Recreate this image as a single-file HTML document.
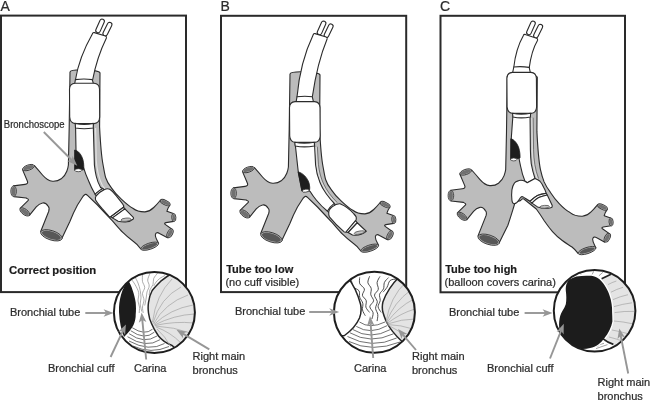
<!DOCTYPE html>
<html><head><meta charset="utf-8">
<style>
html,body{margin:0;padding:0;background:#fff;}
body{width:650px;height:400px;overflow:hidden;font-family:"Liberation Sans",sans-serif;}
svg{display:block;position:absolute;left:0;top:0;filter:grayscale(1);}
text{font-family:"Liberation Sans",sans-serif;fill:#2c2c2c;stroke:#2c2c2c;stroke-width:0.22;}
.b{font-weight:bold;fill:#1a1a1a;}
.o{stroke:#2b2b2b;stroke-width:1.1;stroke-linejoin:round;stroke-linecap:round;}
.w{fill:#fff;}
.g{fill:#bcbcbc;}
.cap{fill:#6f6f6f;stroke:#3a3a3a;stroke-width:0.9;}
.ar{stroke:#8a8a8a;stroke-width:1.6;fill:none;}
.ah{fill:#8a8a8a;}
.thin{stroke:#9a9a9a;stroke-width:0.7;fill:none;}
.ring{stroke:#333;stroke-width:0.7;fill:none;}
</style></head><body>
<svg width="650" height="400" viewBox="0 0 650 400">
<defs>
<!--BEGIN tree-->
<g id="tree">
<path class="g o" d="M70,72 C70.5,68.5 99.5,69.5 100,73 L99.6,127 C100.5,145 101.5,157 103.1,165 C104,170 104.6,174 105.6,177.5 C107,182 109.2,185 111.6,188.1 C114.4,192.4 117.8,196 121.6,199.3 C125.3,202.8 128.8,206 132.8,208.2 C136,210.7 140.5,212 145,211.9 C148.5,211.5 151.5,209.8 153.75,207.5 C156.5,205 158.5,202.5 160.4,200.2 L170,205 C168.5,207 167.3,209 166.9,211.25 L173.3,213.6 L173.75,221.4 L166,222.6 Q163.5,223.3 165.5,224.6 L172,229.2 L167.5,237.8 L159.5,233.4 Q156.4,231.6 155.5,234.2 C154.6,236.5 157,240 158.6,243.3 L140.8,249 C138.8,246 136.4,243.4 133.2,241.2 C129.6,238.6 126,235.6 122.8,232.4 C119,228.6 115.6,224.4 112.2,220.6 L106.9,215 L97.5,205 L87.5,195.4 Q85.5,193.6 84.4,195 L83.1,196.25 L77.5,205 C74,211.5 72,216 70,221.25 L61.8,238.6 L40.7,231.5 L48.75,211.25 C49.5,208.5 49,207 48.1,206.2 C46.5,203.5 44,202.6 42.5,203 C40,203.6 38,205 36.25,206.9 L29.4,215.4 L20.1,208.4 L27.5,201.2 Q29.6,199.4 27,198.5 L26.2,198 L13.8,196.6 L13.5,185.9 L25,184.4 Q28.3,184 27.5,181.5 L26.9,180 L22.5,169.6 L34.4,165.6 C37,168.5 40,172 42.5,175 C45.5,178.5 49,181 52.5,181.2 C56,181.4 59,180.5 61.2,178.8 C64,176.5 65.8,174 66.8,171.2 C67.6,169 68.2,167 68.4,165 L69.2,127 Z"/>
<ellipse cx="28.4" cy="167.6" rx="6.1" ry="2.6" transform="rotate(-19 28.4 167.6)" fill="#b4b4b4" stroke="#3c3c3c" stroke-width="0.9"/>
<ellipse cx="28.4" cy="167.6" rx="5.20" ry="1.85" transform="rotate(-19 28.4 167.6)" fill="#707070"/>
<ellipse cx="13.6" cy="191.2" rx="2.8" ry="5.3" transform="rotate(0 13.6 191.2)" fill="#b4b4b4" stroke="#3c3c3c" stroke-width="0.9"/>
<ellipse cx="13.6" cy="191.2" rx="1.90" ry="4.55" transform="rotate(0 13.6 191.2)" fill="#707070"/>
<ellipse cx="24.75" cy="211.9" rx="5.7" ry="2.8" transform="rotate(37 24.75 211.9)" fill="#b4b4b4" stroke="#3c3c3c" stroke-width="0.9"/>
<ellipse cx="24.75" cy="211.9" rx="4.80" ry="2.05" transform="rotate(37 24.75 211.9)" fill="#707070"/>
<ellipse cx="51.4" cy="235.3" rx="11.2" ry="4.7" transform="rotate(18 51.4 235.3)" fill="#b4b4b4" stroke="#3c3c3c" stroke-width="0.9"/>
<ellipse cx="51.4" cy="235.3" rx="9.90" ry="3.70" transform="rotate(18 51.4 235.3)" fill="#585858"/>
<ellipse cx="149.7" cy="246.2" rx="9.3" ry="3.1" transform="rotate(-18 149.7 246.2)" fill="#b4b4b4" stroke="#3c3c3c" stroke-width="0.9"/>
<ellipse cx="149.7" cy="246.2" rx="8.00" ry="2.10" transform="rotate(-18 149.7 246.2)" fill="#585858"/>
<ellipse cx="170" cy="233.3" rx="2.6" ry="4.7" transform="rotate(27 170 233.3)" fill="#b4b4b4" stroke="#3c3c3c" stroke-width="0.9"/>
<ellipse cx="170" cy="233.3" rx="1.70" ry="3.95" transform="rotate(27 170 233.3)" fill="#707070"/>
<ellipse cx="173.8" cy="217.5" rx="2.1" ry="4" transform="rotate(-4 173.8 217.5)" fill="#b4b4b4" stroke="#3c3c3c" stroke-width="0.9"/>
<ellipse cx="173.8" cy="217.5" rx="1.20" ry="3.25" transform="rotate(-4 173.8 217.5)" fill="#707070"/>
<ellipse cx="165.2" cy="202.6" rx="5.3" ry="2.3" transform="rotate(26 165.2 202.6)" fill="#b4b4b4" stroke="#3c3c3c" stroke-width="0.9"/>
<ellipse cx="165.2" cy="202.6" rx="4.40" ry="1.55" transform="rotate(26 165.2 202.6)" fill="#707070"/>
</g>
<!--END tree-->
<!--BEGIN treeC-->
<g id="treeC">
<path class="g o" d="M70,72 C70.5,68.5 99.5,69.5 100,73 L99.6,127 C100.5,145 101.5,157 103.1,165 C104.2,170 105.4,174 106.8,177.5 C108.6,181.6 110.8,184.8 113,187.8 C115.6,191.8 118.4,195.6 121.9,199.2 C125.3,202.8 128.8,206 132.8,208.2 C136,210.7 140.5,212 145,211.9 C148.5,211.5 151.5,209.8 153.75,207.5 C156.5,205 158.5,202.5 160.4,200.2 L170,205 C168.5,207 167.3,209 166.9,211.25 L173.3,213.6 L173.75,221.4 L166,222.6 Q163.5,223.3 165.5,224.6 L172,229.2 L167.5,237.8 L159.5,233.4 Q156.4,231.6 155.5,234.2 C154.6,236.5 157,240 158.6,243.3 L140.8,249 C139,246.6 137,244.4 134.7,242.6 C131.4,240.4 128,238.4 125,236.1 C121.4,233.4 118,230.4 115.2,227.2 C112.2,223.8 109.6,220.2 107.1,216.6 C104.6,212.6 101.8,208.4 99,204.6 L87.5,195.4 Q85.5,193.6 84.4,195 L83.1,196.25 L78,197.6 C76.2,203 73.6,212 70.6,220.8 L61.8,238.6 L40.7,231.5 L48.75,211.25 C49.5,208.5 49,207 48.1,206.2 C46.5,203.5 44,202.6 42.5,203 C40,203.6 38,205 36.25,206.9 L29.4,215.4 L20.1,208.4 L27.5,201.2 Q29.6,199.4 27,198.5 L26.2,198 L13.8,196.6 L13.5,185.9 L25,184.4 Q28.3,184 27.5,181.5 L26.9,180 L22.5,169.6 L34.4,165.6 C37,168.5 40,172 42.5,175 C45.5,178.5 49,181 52.5,181.2 C56,181.4 59,180.5 61.2,178.8 C64,176.5 65.8,174 66.8,171.2 C67.6,169 68.2,167 68.4,165 L69.2,127 Z"/>
<ellipse cx="28.4" cy="167.6" rx="6.1" ry="2.6" transform="rotate(-19 28.4 167.6)" fill="#b4b4b4" stroke="#3c3c3c" stroke-width="0.9"/>
<ellipse cx="28.4" cy="167.6" rx="5.20" ry="1.85" transform="rotate(-19 28.4 167.6)" fill="#707070"/>
<ellipse cx="13.6" cy="191.2" rx="2.8" ry="5.3" transform="rotate(0 13.6 191.2)" fill="#b4b4b4" stroke="#3c3c3c" stroke-width="0.9"/>
<ellipse cx="13.6" cy="191.2" rx="1.90" ry="4.55" transform="rotate(0 13.6 191.2)" fill="#707070"/>
<ellipse cx="24.75" cy="211.9" rx="5.7" ry="2.8" transform="rotate(37 24.75 211.9)" fill="#b4b4b4" stroke="#3c3c3c" stroke-width="0.9"/>
<ellipse cx="24.75" cy="211.9" rx="4.80" ry="2.05" transform="rotate(37 24.75 211.9)" fill="#707070"/>
<ellipse cx="51.4" cy="235.3" rx="11.2" ry="4.7" transform="rotate(18 51.4 235.3)" fill="#b4b4b4" stroke="#3c3c3c" stroke-width="0.9"/>
<ellipse cx="51.4" cy="235.3" rx="9.90" ry="3.70" transform="rotate(18 51.4 235.3)" fill="#585858"/>
<ellipse cx="149.7" cy="246.2" rx="9.3" ry="3.1" transform="rotate(-18 149.7 246.2)" fill="#b4b4b4" stroke="#3c3c3c" stroke-width="0.9"/>
<ellipse cx="149.7" cy="246.2" rx="8.00" ry="2.10" transform="rotate(-18 149.7 246.2)" fill="#585858"/>
<ellipse cx="170" cy="233.3" rx="2.6" ry="4.7" transform="rotate(27 170 233.3)" fill="#b4b4b4" stroke="#3c3c3c" stroke-width="0.9"/>
<ellipse cx="170" cy="233.3" rx="1.70" ry="3.95" transform="rotate(27 170 233.3)" fill="#707070"/>
<ellipse cx="173.8" cy="217.5" rx="2.1" ry="4" transform="rotate(-4 173.8 217.5)" fill="#b4b4b4" stroke="#3c3c3c" stroke-width="0.9"/>
<ellipse cx="173.8" cy="217.5" rx="1.20" ry="3.25" transform="rotate(-4 173.8 217.5)" fill="#707070"/>
<ellipse cx="165.2" cy="202.6" rx="5.3" ry="2.3" transform="rotate(26 165.2 202.6)" fill="#b4b4b4" stroke="#3c3c3c" stroke-width="0.9"/>
<ellipse cx="165.2" cy="202.6" rx="4.40" ry="1.55" transform="rotate(26 165.2 202.6)" fill="#707070"/>
</g>
<!--END treeC-->
</defs>

<!-- frames -->
<rect x="1" y="15.6" width="185" height="276.5" fill="#fff" stroke="#2a2a2a" stroke-width="2"/>
<rect x="221" y="15.8" width="185.2" height="276.3" fill="#fff" stroke="#2a2a2a" stroke-width="2"/>
<rect x="440.5" y="15.8" width="184.5" height="276.5" fill="#fff" stroke="#2a2a2a" stroke-width="2"/>
<text x="0.5" y="10.6" font-size="14">A</text>
<text x="220.5" y="10.6" font-size="14">B</text>
<text x="440" y="10.6" font-size="14">C</text>

<!-- ===== Panel A ===== -->
<use href="#tree"/>
<!--BEGIN tubeA-->
<g id="tubeA">
<!-- pilot tubes -->
<rect class="w o" x="-2.3" y="0" width="4.6" height="14.5" rx="2.3" transform="translate(103,19.3) rotate(24)"/>
<rect class="w o" x="-2.3" y="0" width="4.6" height="14.5" rx="2.3" transform="translate(110.6,22.6) rotate(26)"/>
<!-- upper tube -->
<path class="w o" d="M92.6,33.6 Q93,32.3 94.4,32.6 L105.4,36 Q106.8,36.6 106.4,38 C100.5,50 95.5,65 92.6,80 L75.4,80 C78,64 85,47 92.6,33.6 Z"/>
<!-- band -->
<path class="w o" d="M75.4,79.6 Q84,78.4 92.3,79.6 L93.6,84.5 L74.6,84.5 Z"/>
<!-- tube below cuff -->
<path class="w o" d="M75.5,123 L76,150 L75.4,170 L83.6,167.6 C85,172.5 86.8,177 88.75,181.25 C90.6,186 92.6,190 95.1,194.2 L102.9,188.6 C102,188.4 101.2,188 100.6,187.5 C98.6,184 97.2,180.5 96.25,176.25 C95.4,172.5 94.8,169 94.4,165 L93.2,123 Z"/>
<path d="M95.6,128 L96.2,160 C96.8,169 98.6,178 102.4,185.4 C103.2,186.8 104,187.8 105.2,188.8" fill="none" stroke="#e4e4e4" stroke-width="1.1"/>
<!-- tracheal cuff -->
<path class="w o" d="M75,83.2 L94,83.2 C97.5,83.4 99.3,85.5 99.5,89 L99.7,117 C99.5,121 97.5,123.4 94,123.6 L75.4,123.6 C72,123.4 70,121 69.7,117 L69.5,89 C69.7,85.5 71.5,83.4 75,83.2 Z"/>
<path class="w o" d="M75.2,123.4 Q84,125.6 93.4,123.4 L93.2,128 Q84,129.6 75.5,128 Z"/>
<!-- black spot -->
<path d="M74.6,150 C80.6,151.2 84.8,160 83.6,169.8 L74.6,170.2 Z" fill="#1e1e1e" stroke="#1e1e1e" stroke-width="0.8"/>
<ellipse cx="78.3" cy="170.2" rx="3.6" ry="1.5" fill="#fff" stroke="#333" stroke-width="0.8"/>
<!-- bronchial cuff -->
<path class="w o" d="M95.1,194.2 Q98.6,190.6 102.9,188.6 L104.1,189.7 Q99.6,191.8 96.2,195.9 Z"/>
<path class="w o" d="M96.2,195.9 Q99.6,191.8 104.1,189.7 C106,188.8 108.2,188.6 109.7,189.2 C112,190.6 114,193 115.9,195.4 C118,198 120.5,201 122.6,203.8 C123.6,205 124,206 123.5,207.2 L110.8,216.7 C110,217.2 109.4,216.8 108.8,216.2 L102.4,208.9 C99.6,205.5 97,202.5 95.6,199.9 C95.2,198.5 95.2,197 96.2,195.9 Z"/>
<path class="w o" d="M110.8,216.7 L123.5,207.2 L124.9,208.9 L112.5,217.9 Z"/>
<path class="w o" d="M112.5,217.9 L124.9,208.9 L133.3,217.3 Q133.8,218.4 133.3,219 C131,220.8 129,221.6 127.1,221.8 C124,222.2 121,221.9 118.1,221.2 Z"/>
<ellipse cx="126" cy="219.7" rx="5" ry="1.6" transform="rotate(-5 126 219.7)" fill="#c4c4c4" stroke="#444" stroke-width="0.7"/>
</g>
<!--END tubeA-->
<!-- bronchoscope label -->
<text x="3.8" y="127.6" font-size="10" textLength="60.8" lengthAdjust="spacingAndGlyphs">Bronchoscope</text>
<!--BEGIN bsarrow-->
<g id="bsarrow"><line x1="43.8" y1="132.0" x2="71.6" y2="160.0" stroke="#989898" stroke-width="1.9"/><polygon points="77.3,165.8 67.2,161.0 71.6,160.0 72.6,155.7" fill="#989898"/></g>
<!--END bsarrow-->
<text class="b" x="9" y="274.4" font-size="11.3">Correct position</text>

<!-- ===== Panel B ===== -->
<use href="#tree" transform="translate(220,2)"/>
<!--BEGIN tubeB-->
<g id="tubeB">
<rect class="w o" x="-2.3" y="0" width="4.6" height="14.5" rx="2.3" transform="translate(324.5,21.3) rotate(24)"/>
<rect class="w o" x="-2.3" y="0" width="4.6" height="14.5" rx="2.3" transform="translate(331.8,24.2) rotate(26)"/>
<path class="w o" d="M313.3,34.6 Q313.7,33.3 315.1,33.6 L326.1,37 Q327.5,37.6 327.1,39 C320.5,55 315.5,75 312.3,97 L297,97 C299,75 305,52 313.3,34.6 Z"/>
<path class="w o" d="M297,96.8 Q305,95.6 312.3,96.8 L313.6,102.4 L296,102.4 Z"/>
<!-- tube lower -->
<path class="w o" d="M295,142 L297.5,165 L298.3,172 L301.9,190.6 L310,191.25 C312,194.5 314,197.3 316.25,200 C319.5,204 323.5,208 327.5,211.25 L334.4,203.5 C331.5,200.6 328.8,197.3 326.25,193.75 C323.6,190 321.6,186.6 320,182.5 C317.6,177 316.2,171 315.6,165 L314.4,142 Z"/>
<path d="M316.2,147 L317.3,165 C318,172 320,179 322.6,184.5 C325.5,190.5 330,197 336,202.8" fill="none" stroke="#dcdcdc" stroke-width="1.5"/><path d="M316.2,147 L317.3,165 C318,172 320,179 322.6,184.5 C325.5,190.5 330,197 336,202.8" transform="translate(1.15,-0.3)" fill="none" stroke="#505050" stroke-width="0.7"/>
<path class="w o" d="M295,101.6 L314.6,101.6 C318,101.8 319.8,103.9 320,107.4 L320.2,136 C320,140 318,142.2 314.6,142.4 L295.4,142.4 C292,142.2 290,140 289.7,136 L289.5,107.4 C289.7,103.9 291.5,101.8 295,101.6 Z"/>
<path class="w o" d="M294.8,142.2 Q304,144.4 314.4,142.2 L314.4,146 Q304,147.8 295.2,146 Z"/>
<path d="M298.1,171.9 C303,173 307.5,178 309,183 C309.8,186 310,188.5 309.4,190.6 L301.9,190.8 Z" fill="#1e1e1e" stroke="#1e1e1e" stroke-width="0.8"/>
<ellipse cx="305.6" cy="190.7" rx="3.5" ry="1.5" transform="rotate(-8 305.6 190.7)" fill="#fff" stroke="#333" stroke-width="0.8"/>
<!-- bronchial cuff -->
<path class="w o" d="M327.5,211 Q330,206.5 334,203.6 L335.4,205 Q331.5,208 328.9,212.6 Z"/>
<path class="w o" d="M328.75,212.5 C328.6,209 335,203.4 340,203.75 C345.5,206 351,210.5 353.75,213.75 C355.5,215.5 356.6,217 356.25,218.4 Q356.4,220 355.6,220.6 L346.25,231.9 Q345.2,232.6 344.2,231.9 C339,227.5 333.5,222 329.4,216.9 Q328.5,214.5 328.75,212.5 Z"/>
<path class="w o" d="M346,232 L355.6,220.6 L357.25,222.75 L348.1,232.5 Z"/>
<path class="w o" d="M348.1,232.5 L357.25,222.75 L366.25,231.25 C363,234 357.5,235.8 352.5,235 Z"/>
<ellipse cx="359.4" cy="232.6" rx="5.2" ry="1.5" transform="rotate(-10 359.4 232.6)" fill="#c4c4c4" stroke="#444" stroke-width="0.7"/>
</g>
<!--END tubeB-->
<text class="b" x="226.2" y="273" font-size="11">Tube too low</text>
<text x="225.4" y="286.4" font-size="11">(no cuff visible)</text>

<!-- ===== Panel C ===== -->
<use href="#treeC" transform="translate(437.3,4.4)"/>
<!--BEGIN tubeC-->
<g id="tubeC">
<rect class="w o" x="-2.3" y="0" width="4.6" height="14.5" rx="2.3" transform="translate(533.9,21.3) rotate(24)"/>
<rect class="w o" x="-2.3" y="0" width="4.6" height="14.5" rx="2.3" transform="translate(541.3,24.6) rotate(26)"/>
<path class="w o" d="M523.4,35.4 Q523.8,34.1 525.2,34.4 L536.6,38.2 Q538,38.8 537.6,40.2 C533,48 530.5,58 529.2,68 L513.8,67.3 C515,56 518.5,44 523.4,35.4 Z"/>
<path class="w o" d="M513.8,67 Q521,66 529.2,67.4 L530.4,72.8 L512.6,72.8 Z"/>
<!-- lower tube -->
<path class="w o" d="M513.1,113 L511.25,138.75 L510.8,159.6 L518.75,157 C519.3,160 519.9,163 520.6,166.25 C521.6,171.5 523,176.5 525,181.25 L527.25,182.75 L535,178.5 C533.4,173.6 532.1,168.8 531.25,163.75 C530.7,159 530.5,154.5 530.4,150 L530,113 Z"/>
<path d="M532,118 L532.4,150 C532.6,160 534,170 537.4,178.8" fill="none" stroke="#dcdcdc" stroke-width="1.5"/><path d="M532,118 L532.4,150 C532.6,160 534,170 537.4,178.8" transform="translate(1.15,-0.3)" fill="none" stroke="#505050" stroke-width="0.7"/>
<path class="w o" d="M512.4,72.4 L531,72.4 C534.4,72.6 536.2,74.7 536.4,78.2 L536.6,107 C536.4,111 534.4,113.2 531,113.4 L512.8,113.4 C509.4,113.2 507.4,111 507.1,107 L506.9,78.2 C507.1,74.7 508.9,72.6 512.4,72.4 Z"/>
<path class="w o" d="M512.5,113.2 Q521,115.4 530.6,113.2 L530.4,117 Q521,118.8 513,117 Z"/>
<path d="M510.8,138.8 C514,139.2 517.5,143.75 518.8,148 C519.8,151.5 520.2,155 520,158 L510.8,159.8 Z" fill="#1e1e1e" stroke="#1e1e1e" stroke-width="0.8"/>
<ellipse cx="513.75" cy="159.4" rx="3.1" ry="1.5" fill="#fff" stroke="#333" stroke-width="0.8"/>
<!-- herniated cuff -->
<path class="w o" d="M525,181.25 C522.5,180 520.5,180 518.75,180.6 C516.5,181.2 515,182 514.4,183.1 C513,185 512.2,187.5 511.9,190 C511.5,193.5 511.5,197 511.9,200 C512.2,202.5 512.8,203.6 513.75,203.75 C515,203.8 516,203.3 516.9,202.5 C518.3,201 519.5,199 520.6,197.5 C521.4,196.6 522.3,196.5 523.1,196.9 C525.4,198.3 527.4,200 530,201.25 C532.5,199 535,197 537.5,195.6 C540.5,194.3 543.5,193.8 546.25,193.3 C545.6,191 544.8,189.2 543.75,187.5 C542.8,185 541.5,183 540,181.25 C538.4,180 536.5,179.2 535,178.5 L527.25,182.75 Z"/>
<path class="w o" d="M530,201.25 C532.5,199 535,197 537.5,195.6 C540.5,194.3 543.5,193.8 546.25,193.3 L547.25,195 C544.3,195.6 541.5,196.3 538.75,197.5 C536.3,198.8 534,200.8 531.9,203.1 Z"/>
<path class="w o" d="M531.9,203.1 C534,200.8 536.3,198.8 538.75,197.5 C541.5,196.3 544.3,195.6 547.25,195 L552.25,205.6 Q552.6,207.4 550.8,207.8 C547,208.6 542.5,208.6 537.5,206.9 Z"/>
<ellipse cx="544.6" cy="206.8" rx="4.8" ry="1.4" transform="rotate(-4 544.6 206.8)" fill="#c4c4c4" stroke="#444" stroke-width="0.7"/>
</g>
<!--END tubeC-->
<text class="b" x="445.2" y="273" font-size="11">Tube too high</text>
<text x="444.6" y="286.2" font-size="11">(balloon covers carina)</text>

<!-- ===== Circles ===== -->
<!--BEGIN circA-->
<g id="circA">
<clipPath id="ca"><circle cx="154.4" cy="312.5" r="40.5"/></clipPath>
<circle cx="154.4" cy="312.5" r="40.5" fill="#fff"/>
<g clip-path="url(#ca)">
<!-- rings -->
<path class="ring" d="M132.2,327.7 Q144.7,335.9 152.5,329.2 M130.7,330.7 Q144.5,340.6 154.3,332.2 M129.2,333.7 Q143.9,344.5 157.0,336.0 M127.5,336.7 Q146.2,348.8 160.0,339.7 M129.0,341.0 Q149.2,352.1 164.5,343.5 M133.0,346.0 Q151.0,354.5 169.0,346.5"/>
<!-- wavy folds -->
<path class="thin" style="stroke:#8a8a8a" d="M131.2,279.2 C131.9,280.1 133.7,282.2 135.0,284.5 C136.2,286.7 138.2,290.0 138.7,292.7 C139.2,295.5 137.9,298.6 138.0,301.0 C138.1,303.4 139.3,305.0 139.5,307.0 C139.7,309.0 139.2,312.0 139.2,313.0 M135.0,277.0 C135.5,278.0 137.1,280.7 138.0,283.0 C138.9,285.2 139.7,288.0 140.2,290.5 C140.7,293.0 141.0,295.7 141.0,298.0 C141.0,300.2 140.1,301.7 140.2,304.0 C140.4,306.2 141.5,310.2 141.7,311.5 M142.5,274.7 C142.5,275.9 142.1,279.4 142.5,281.5 C142.9,283.6 144.7,285.5 144.7,287.5 C144.7,289.5 142.6,291.4 142.5,293.5 C142.4,295.6 144.0,298.0 144.0,300.2 C144.0,302.5 142.6,304.9 142.5,307.0 C142.4,309.1 143.1,312.0 143.2,313.0 M150.0,273.2 C149.6,274.4 147.9,277.9 147.7,280.0 C147.6,282.1 149.4,284.0 149.2,286.0 C149.1,288.0 147.5,290.0 147.0,292.0 C146.5,294.0 146.6,295.7 146.2,298.0 C145.9,300.2 145.0,304.2 144.7,305.5 M157.5,273.2 C156.9,274.1 154.5,276.6 153.7,278.5 C153.0,280.4 153.6,282.6 153.0,284.5 C152.4,286.4 150.6,288.0 150.0,289.7 C149.4,291.5 149.4,294.1 149.2,295.0 M165.0,275.5 C164.1,276.0 161.2,277.4 159.7,278.5 C158.2,279.6 157.0,281.0 156.0,282.2 C155.0,283.5 154.1,285.4 153.7,286.0"/>
<!-- right bronchus -->
<path d="M171.5,273.5 C166,277 163,279.5 160.5,281.5 C157,285 154,288 152.2,290.5 C150,294.5 149,298.5 148.5,302.5 C148,306 148,309.5 148.5,313 C149,317 150,320.5 151.5,323.5 C153.5,328.5 156,332.5 158.5,336 C162,340.5 167,343.5 172,345.5 L176,349 L200,347 L200,272 Z" fill="#e4e4e4" stroke="#262626" stroke-width="1.5"/>
<path class="thin" style="stroke:#a4a4a4" d="M152.5,322 Q156,295 172,279 M153,323 Q160,298 181,287 M153.5,324 Q165,303 188,295 M154,324.5 Q170,309 193,305 M154.5,325 Q174,315 194.5,314 M155,325.5 Q175,321 194,323 M155.5,326 Q174,327 190.5,333 M156,327 Q170,332 181,343 M157,329 Q165,336 171,347"/>
<!-- black cuff -->
<path d="M128.2,280.5 C122,288 118.6,300 119,312 C119.4,322 121.4,330.5 124,337 C128,333 131.5,329 133.5,325 C135.2,321 135.8,318 135.7,314.5 C136.2,310.5 136,306.5 135.7,302.5 C135,298 134,294 132.7,290.5 C131.5,286.5 130,283 128.2,280.5 Z" fill="#1c1c1c"/>
</g>
<circle cx="154.4" cy="312.5" r="40.5" fill="none" stroke="#1e1e1e" stroke-width="2"/>
</g>
<!--END circA-->

<!--BEGIN circB-->
<g id="circB">
<clipPath id="cb"><circle cx="374.4" cy="312.2" r="40.5"/></clipPath>
<circle cx="374.4" cy="312.2" r="40.5" fill="#fff"/>
<g clip-path="url(#cb)">
<path class="ring" d="M359.5,322.0 Q369.8,329.4 385.0,322.0 M356.3,326.4 Q370.4,335.2 387.0,325.7 M353.0,329.6 Q370.4,340.4 390.3,329.6 M350.0,332.8 Q370.2,344.7 393.5,333.8 M347.5,336.5 Q371.9,349.5 396.7,338.0 M349.0,341.5 Q372.1,353.0 400.0,342.0"/>
<path class="thin" style="stroke:#383838;stroke-width:0.9" d="M351.4,280.4 C351.7,281.4 351.9,285.1 353.2,286.9 C354.5,288.6 357.9,289.0 359.0,290.8 C360.1,292.5 359.0,295.1 359.7,297.2 C360.3,299.3 362.4,301.2 362.8,303.3 C363.3,305.4 362.1,307.9 362.5,309.9 C362.9,312.0 364.8,314.8 365.3,315.7 M359.7,277.4 C359.7,278.4 359.0,281.8 359.8,283.8 C360.6,285.7 364.0,287.0 364.4,289.0 C364.9,290.9 362.1,293.4 362.4,295.3 C362.7,297.2 365.6,298.6 366.2,300.6 C366.8,302.6 365.4,305.2 365.9,307.2 C366.5,309.1 368.9,311.5 369.5,312.4 M369.6,276.3 C369.3,277.4 367.6,280.6 367.9,282.7 C368.2,284.7 370.8,286.4 371.2,288.4 C371.7,290.4 370.4,292.7 370.8,294.7 C371.2,296.8 373.7,298.8 373.6,300.8 C373.4,302.8 369.9,304.6 369.8,306.6 C369.7,308.6 372.7,310.6 373.1,312.7 C373.4,314.8 372.1,317.9 371.9,319.0 M380.0,276.4 C379.5,277.4 377.4,280.3 377.1,282.5 C376.8,284.6 378.7,287.2 378.3,289.3 C377.9,291.4 374.7,293.0 374.5,295.1 C374.3,297.2 377.1,299.4 377.3,301.6 C377.4,303.8 375.5,306.1 375.6,308.3 C375.7,310.4 377.6,312.4 377.8,314.6 C378.0,316.7 377.2,320.0 377.1,321.1 M388.5,277.6 C387.8,278.4 385.2,280.6 384.4,282.5 C383.6,284.3 384.3,286.9 383.5,288.8 C382.7,290.8 380.2,292.2 379.6,294.2 C379.1,296.1 380.4,298.5 380.2,300.6 C379.9,302.7 377.9,304.8 378.1,306.8 C378.3,308.8 380.7,311.5 381.2,312.4 M396.9,278.9 C395.8,279.2 391.8,279.1 390.1,280.5 C388.5,281.9 388.2,285.4 387.0,287.3 C385.8,289.3 383.7,291.4 383.0,292.2"/>
<path d="M347.5,277 C353,284 357.5,293 360.5,304 C361.6,309 361.2,313.5 359.5,318 C356.5,325 351.5,330.5 344.5,335.5 L330,337 L330,277 Z" fill="#fff" stroke="#262626" stroke-width="1.5"/>
<path d="M400,276 C392,284 386,293 382.9,302 C382,306 382.2,309.5 383,312.5 C384,316 385,318.5 386,321 C389.5,328.5 395,335 402,341.5 L420,342 L420,275 Z" fill="#e4e4e4" stroke="#262626" stroke-width="1.5"/>
<path class="thin" style="stroke:#a4a4a4" d="M386,322 Q390,297 406,282 M386.3,322.5 Q394,302 411,290 M386.6,323 Q398,307 414,299 M387,323.5 Q401,313 415,309 M387.3,324 Q402,319 415,319 M387.6,324.5 Q401,325 413,329 M388,325 Q398,330 408,338"/>
</g>
<circle cx="374.4" cy="312.2" r="40.5" fill="none" stroke="#1e1e1e" stroke-width="2"/>
</g>
<!--END circB-->

<!--BEGIN circC-->
<g id="circC">
<clipPath id="cc"><circle cx="594.6" cy="310.8" r="40.8"/></clipPath>
<circle cx="594.6" cy="310.8" r="40.8" fill="#fff"/>
<g clip-path="url(#cc)">
<path d="M598,281 L610.8,274.4 L640,262 L640,356 L613,344.2 Q608,342.5 600,340 L606,311 Z" fill="#e4e4e4"/>
<path class="thin" style="stroke:#a4a4a4" d="M608,284.6 Q612,282.4 616.4,281 M611,292.2 Q616.5,289.2 623,287.3 M613,299.6 Q620,296.4 628,294.7 M614,306.6 Q622.5,304 632,302.8 M614.6,312.6 Q624,311 634,311.4 M614,321 Q623,321.6 632.6,323.8 M612,330 Q620,331.4 629,334 M609,337 Q617,339 624.6,341.8"/>
<path class="thin" style="stroke:#777" d="M580.5,273.4 L581.7,275.8 M592,274.6 L593.8,271.2 M598.9,275.8 L602.9,272.3 M592.5,346.8 L604,343.3 M596,348.6 L607.5,344.6 M587,348.6 L599,345.6"/>
<path d="M566.9,282.9 C568.5,279.8 571.5,278 576.5,276.6 C581,275.6 586,275.5 591.4,275.8 C594.5,276.2 597.2,277.4 599.5,279.2 C601.6,281 603.2,283.2 604.7,285.5 C606.6,288.4 608.2,291.5 609.3,294.7 C610.4,297.8 611.2,300.8 611.6,304 C612,306.8 612.2,309.4 612.1,312 C612.2,315.2 612.4,318.4 612.4,321.5 C611.8,324.4 611,327 609.8,329.5 C608.2,333 606.2,336 604,338.7 C602.2,341 600.3,343 598.3,344.5 C595.8,346.2 593,347.4 590.2,348 C587.4,348.8 584.2,349.2 581,349 C576,347.8 571.2,345.4 567.2,342.2 C564,339.6 561.6,336.4 560.3,333 C559.2,329.4 558.8,325.4 559.2,321.5 C559.6,317.4 560.6,313.6 562.4,311 C563.8,308.8 565,306.6 565.8,304.3 C566.6,300 566.4,295.4 565.8,290.8 C565.6,287.8 565.9,285.2 566.9,282.9 Z" fill="#1c1c1c" stroke="#fff" stroke-width="2.6" paint-order="stroke"/>
<path d="M601.6,278.8 L611,274.2" stroke="#222" stroke-width="1.7" fill="none"/>
<path d="M603.2,338.9 Q607.6,342.6 613.4,344.4" stroke="#222" stroke-width="1.7" fill="none"/>
</g>
<circle cx="594.6" cy="310.8" r="40.8" fill="none" stroke="#1e1e1e" stroke-width="2"/>
</g>
<!--END circC-->

<!-- ===== Labels ===== -->
<g font-size="11">
<text x="10" y="316">Bronchial tube</text>
<text x="48" y="372">Bronchial cuff</text>
<text x="134" y="371.6">Carina</text>
<text x="192.6" y="360">Right main</text>
<text x="192.6" y="373.6">bronchus</text>
<text x="235" y="315.4">Bronchial tube</text>
<text x="354" y="372">Carina</text>
<text x="412" y="360">Right main</text>
<text x="412" y="373.6">bronchus</text>
<text x="449" y="316">Bronchial tube</text>
<text x="487" y="372">Bronchial cuff</text>
<text x="597.6" y="386.2">Right main</text>
<text x="597.6" y="399.6">bronchus</text>
</g>
<!--BEGIN arrows-->
<g id="arrows">
<line x1="85.3" y1="313.0" x2="106.2" y2="313.0" stroke="#969696" stroke-width="1.9"/><polygon points="113.6,313.0 103.6,316.8 106.2,313.0 103.6,309.2" fill="#969696"/>
<line x1="110.6" y1="357.0" x2="122.8" y2="331.1" stroke="#969696" stroke-width="1.9"/><polygon points="125.9,324.4 125.1,335.1 122.8,331.1 118.2,331.8" fill="#969696"/>
<line x1="146.2" y1="359.5" x2="142.3" y2="319.9" stroke="#969696" stroke-width="1.9"/><polygon points="141.6,312.5 146.4,322.1 142.3,319.9 138.8,322.8" fill="#969696"/>
<line x1="209.3" y1="349.4" x2="182.9" y2="333.6" stroke="#969696" stroke-width="1.9"/><polygon points="176.5,329.8 187.0,331.7 182.9,333.6 183.1,338.2" fill="#969696"/>
<line x1="309.2" y1="312.0" x2="331.8" y2="312.0" stroke="#969696" stroke-width="1.9"/><polygon points="339.2,312.0 329.2,315.8 331.8,312.0 329.2,308.2" fill="#969696"/>
<line x1="373.2" y1="358.0" x2="370.6" y2="323.4" stroke="#969696" stroke-width="1.9"/><polygon points="370.0,316.0 374.5,325.7 370.6,323.4 367.0,326.3" fill="#969696"/>
<line x1="416.0" y1="350.0" x2="402.8" y2="334.6" stroke="#969696" stroke-width="1.9"/><polygon points="398.0,329.0 407.4,334.1 402.8,334.6 401.6,339.1" fill="#969696"/>
<line x1="524.6" y1="313.0" x2="545.2" y2="313.0" stroke="#969696" stroke-width="1.9"/><polygon points="552.6,313.0 542.6,316.8 545.2,313.0 542.6,309.2" fill="#969696"/>
<line x1="550.0" y1="358.5" x2="561.1" y2="330.7" stroke="#969696" stroke-width="1.9"/><polygon points="563.8,323.8 563.6,334.5 561.1,330.7 556.6,331.7" fill="#969696"/>
<line x1="628.2" y1="373.5" x2="620.7" y2="335.8" stroke="#969696" stroke-width="1.9"/><polygon points="619.3,328.5 625.0,337.6 620.7,335.8 617.5,339.0" fill="#969696"/>
</g>
<!--END arrows-->
</svg>
</body></html>
